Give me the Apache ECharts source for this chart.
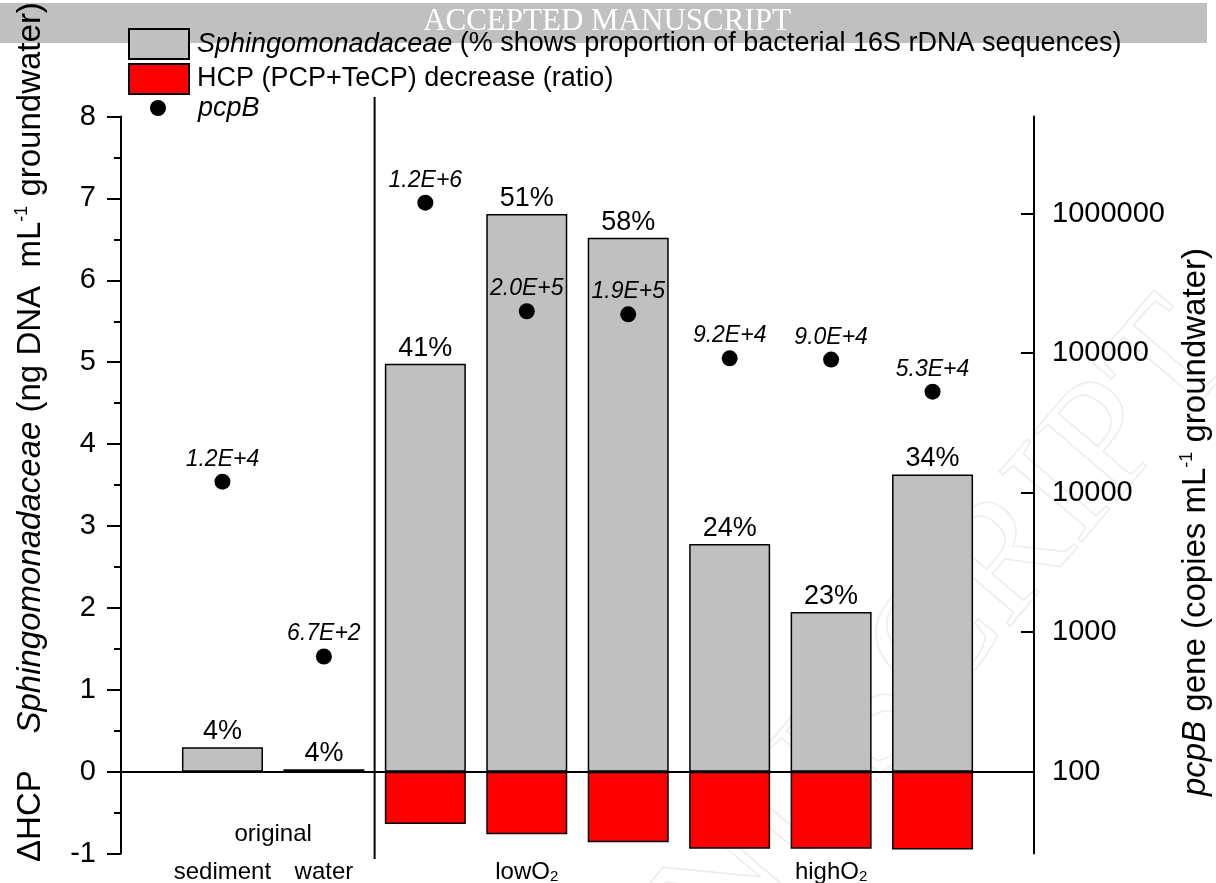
<!DOCTYPE html>
<html>
<head>
<meta charset="utf-8">
<script src="https://cdn.jsdelivr.net/npm/echarts@6/dist/echarts.min.js"></script>
<style>
  html, body { margin: 0; padding: 0; background: #fff; }
  #chart { width: 1216px; height: 883px; }
</style>
</head>
<body>
<div id="chart"></div>
<script>
// ---- data ----
const samples = ['sediment', 'water', 'lowO2 a', 'lowO2 b', 'lowO2 c', 'highO2 a', 'highO2 b', 'highO2 c'];
const tickLabels = ['sediment', 'water', '', 'lowO2', '', '', 'highO2', ''];
const groupLabel = 'original';
const sphingoDNA = [0.30, 0.03, 4.98, 6.81, 6.52, 2.78, 1.95, 3.63];      // ng DNA mL-1
const sphingoPct = [4, 4, 41, 51, 58, 24, 23, 34];                        // % of 16S sequences
const hcpDecrease = [null, null, 0.64, 0.765, 0.86, 0.94, 0.94, 0.95];    // ratio
const pcpBCopies = [1.2e4, 6.7e2, 1.2e6, 2.0e5, 1.9e5, 9.2e4, 9.0e4, 5.3e4];
const rightTicks = [100, 1000, 10000, 100000, 1000000];
const legendText = {
  'Sphingomonadaceae': '{i|Sphingomonadaceae} (% shows proportion of bacterial 16S rDNA sequences)',
  'HCP': 'HCP (PCP+TeCP) decrease (ratio)',
  'pcpB': '{i|pcpB}'
};
const dividerAt = 2.5;

const FONT = "'Liberation Sans', Arial, sans-serif";
const pos = (i) => i + 1;

const chart = echarts.init(document.getElementById('chart'), null, { renderer: 'canvas' });

const subRich = {
  sub: { fontSize: 15, fontFamily: FONT, color: '#000', lineHeight: 14, verticalAlign: 'bottom' }
};
const legendRich = { i: { fontStyle: 'italic', fontSize: 27, fontFamily: FONT, color: '#000', lineHeight: 30 } };

const option = {
  animation: false,
  backgroundColor: '#ffffff',
  textStyle: { fontFamily: FONT, color: '#000' },
  graphic: [
    { type: 'rect', z: 0, shape: { x: 0, y: 3, width: 1207, height: 40 }, style: { fill: '#c0c0c0' } },
    { type: 'text', z: 1, x: 607, y: 22,
      style: { text: 'ACCEPTED MANUSCRIPT', font: "31px 'Liberation Serif', 'Times New Roman', serif",
               fill: '#ffffff', align: 'center', verticalAlign: 'middle' } },
    { type: 'text', z: 0, x: 1205, y: 330, rotation: 0.866,
      style: { text: 'ACCEPTED MANUSCRIPT', font: "165px 'Liberation Serif', 'Times New Roman', serif",
               fill: 'rgba(0,0,0,0)', stroke: '#ececec', lineWidth: 1.5, align: 'right', verticalAlign: 'middle' } }
  ],
  legend: [
    {
      data: ['Sphingomonadaceae', 'HCP'],
      orient: 'vertical', left: 128, top: 28, padding: 0,
      itemWidth: 60, itemHeight: 30, itemGap: 3,
      icon: 'rect',
      formatter: (n) => legendText[n],
      textStyle: { fontSize: 27, fontFamily: FONT, color: '#000', lineHeight: 30,
                   padding: [0, 0, 0, 3], rich: legendRich },
      selectedMode: false
    },
    {
      data: ['pcpB'],
      orient: 'vertical', left: 150, top: 93, padding: 0,
      itemWidth: 16, itemHeight: 16,
      formatter: (n) => legendText[n],
      textStyle: { fontSize: 27, fontFamily: FONT, color: '#000', lineHeight: 30,
                   padding: [0, 0, 0, 27], rich: legendRich },
      itemStyle: { opacity: 1 },
      selectedMode: false
    }
  ],
  grid: [
    { left: 121, right: 182, top: 116.5, bottom: 29.4, containLabel: false, outerBoundsMode: 'none' },
    { left: 121, right: 182, top: 97, bottom: 24, containLabel: false, outerBoundsMode: 'none' }
  ],
  xAxis: [
    {
      type: 'value', gridIndex: 0, min: 0, max: 9, interval: 1, position: 'bottom',
      axisLine: { show: false, onZero: false }, axisTick: { show: false }, splitLine: { show: false },
      axisLabel: {
        margin: 7, fontSize: 24, color: '#000', fontFamily: FONT,
        formatter: (v) => {
          const s = tickLabels[Math.round(v) - 1];
          return s ? s.replace('O2', 'O{sub|2}') : '';
        },
        rich: subRich
      }
    },
    {
      type: 'value', gridIndex: 0, min: 0, max: 9, interval: 0.5, position: 'bottom', offset: -38,
      axisLine: { show: false, onZero: false }, axisTick: { show: false }, splitLine: { show: false },
      axisLabel: { margin: 7, fontSize: 24, color: '#000', fontFamily: FONT,
                   formatter: (v) => (v === 1.5 ? groupLabel : '') }
    },
    { type: 'value', gridIndex: 1, min: 0, max: 9, show: false }
  ],
  yAxis: [
    {
      type: 'value', gridIndex: 0, min: -1, max: 8, interval: 1, position: 'left',
      axisLine: { show: true, onZero: false, lineStyle: { color: '#000', width: 2 } },
      axisTick: { show: true, inside: false, length: 14, lineStyle: { color: '#000', width: 2 } },
      minorTick: { show: true, splitNumber: 2, length: 7, lineStyle: { color: '#000', width: 2 } },
      splitLine: { show: false }, minorSplitLine: { show: false },
      axisLabel: { margin: 25, fontSize: 29, color: '#000', fontFamily: FONT },
      name: '{n|ΔHCP}    {i|Sphingomonadaceae} {n|(ng DNA  mL}{sup|-1}{n| groundwater)}',
      nameLocation: 'middle', nameRotate: 90, nameGap: 72,
      nameTextStyle: {
        fontSize: 33, color: '#000', fontFamily: FONT, padding: [0, 0, 0, 106],
        rich: {
          n: { fontSize: 33, fontFamily: FONT, color: '#000', lineHeight: 36 },
          i: { fontSize: 33, fontFamily: FONT, color: '#000', fontStyle: 'italic', lineHeight: 36 },
          sup: { fontSize: 18, fontFamily: FONT, color: '#000', lineHeight: 20, verticalAlign: 'top' }
        }
      }
    },
    {
      type: 'log', logBase: 10, gridIndex: 0, min: 25.87, max: 4.98e6, position: 'right',
      axisLine: { show: true, onZero: false, lineStyle: { color: '#000', width: 2 } },
      axisTick: { show: true, inside: true, length: 13, customValues: rightTicks,
                  lineStyle: { color: '#000', width: 2 } },
      minorTick: { show: false }, splitLine: { show: false },
      axisLabel: { margin: 18, fontSize: 29, color: '#000', fontFamily: FONT,
                   customValues: rightTicks, formatter: (v) => String(Math.round(v)) },
      name: '{i|pcpB} gene (copies mL{sup|-1} groundwater)',
      nameLocation: 'middle', nameRotate: 90, nameGap: 144,
      nameTextStyle: {
        fontSize: 33, color: '#000', fontFamily: FONT, padding: [0, 74, 0, 0],
        rich: {
          i: { fontSize: 33, fontFamily: FONT, color: '#000', fontStyle: 'italic', lineHeight: 36 },
          sup: { fontSize: 18, fontFamily: FONT, color: '#000', lineHeight: 20, verticalAlign: 'top' }
        }
      }
    },
    { type: 'value', gridIndex: 1, min: 0, max: 1, show: false }
  ],
  series: [
    {
      name: 'Sphingomonadaceae', type: 'bar', xAxisIndex: 0, yAxisIndex: 0,
      barWidth: 81, barGap: '-100%',
      data: sphingoDNA.map((v, i) => [pos(i), v]),
      itemStyle: { color: '#c0c0c0', borderColor: '#000', borderWidth: 1.5 },
      label: { show: true, position: 'top', distance: 2, fontSize: 27, color: '#000', fontFamily: FONT,
               formatter: (p) => sphingoPct[p.dataIndex] + '%' },
      z: 2
    },
    {
      name: 'HCP', type: 'bar', xAxisIndex: 0, yAxisIndex: 0,
      barWidth: 81, barGap: '-100%',
      data: hcpDecrease.map((v, i) => [pos(i), v == null ? null : -v]),
      itemStyle: { color: '#ff0000', borderColor: '#000', borderWidth: 1.5 },
      markLine: {
        silent: true, symbol: ['none', 'none'], label: { show: false },
        lineStyle: { color: '#000', width: 2, type: 'solid' },
        data: [{ yAxis: 0 }]
      },
      z: 2
    },
    {
      name: 'pcpB', type: 'scatter', xAxisIndex: 0, yAxisIndex: 1,
      symbol: 'circle', symbolSize: 16,
      data: pcpBCopies.map((v, i) => [pos(i), v]),
      itemStyle: { color: '#000', opacity: 1 },
      label: { show: true, position: 'top', distance: 3, fontSize: 23, fontStyle: 'italic',
               color: '#000', opacity: 1, fontFamily: FONT,
               formatter: (p) => pcpBCopies[p.dataIndex].toExponential(1).toUpperCase() },
      z: 3
    },
    {
      name: 'divider', type: 'line', xAxisIndex: 2, yAxisIndex: 2,
      data: [[dividerAt, 0], [dividerAt, 1]], showSymbol: false, silent: true,
      lineStyle: { color: '#000', width: 2 }, z: 3
    }
  ]
};
chart.setOption(option);
</script>
</body>
</html>
